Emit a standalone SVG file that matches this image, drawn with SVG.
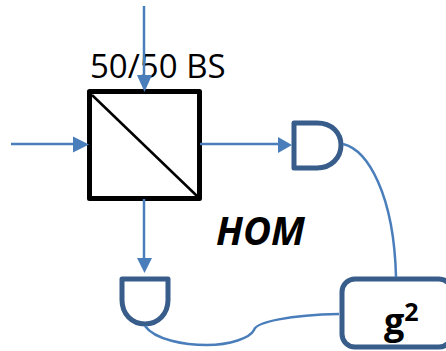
<svg xmlns="http://www.w3.org/2000/svg" width="446" height="351" viewBox="0 0 446 351">
<style>
.w{fill:none;stroke:#4a7ebb;stroke-width:2.500}
.d{fill:#fff;stroke:#385d8a;stroke-width:5;stroke-linejoin:round}
.a{fill:#4a7ebb}
text{font-family:"Open Sans","Noto Sans",sans-serif;fill:#000}
</style>
<rect width="446" height="351" fill="#fff"/>
<g id="label-bs"><text x="90" y="78" font-size="33">50/50 BS</text></g>
<g id="beamsplitter">
<rect x="89.500" y="91.500" width="110" height="107" fill="none" stroke="#000" stroke-width="5" stroke-linejoin="round"/>
<line x1="92" y1="95" x2="197" y2="196" stroke="#000" stroke-width="2.500"/>
</g>
<g id="detector-right"><path class="d" d="M294 123H317C332 123 341 133 341 145C341 158 331 168 317 168H294Z"/></g>
<g id="detector-bottom"><path class="d" d="M122 279H168V300C168 314 158 324 145 324C132 324 122 314 122 300Z"/></g>
<g id="g2">
<rect x="342" y="279" width="110" height="68" rx="13" fill="#fff" stroke="#385d8a" stroke-width="5"/>
<text x="384" y="334" font-size="36" font-weight="700">g<tspan font-size="25" dy="-13">2</tspan></text>
</g>
<g id="label-hom"><text x="216" y="245" font-size="38.500" font-weight="700" font-style="italic">HOM</text></g>
<g id="connectors">
<path class="w" d="M144 6V80"/><path class="a" d="M137 75H152L144.500 92Z"/>
<path class="w" d="M11 144H75"/><path class="a" d="M73 136.500L89 144.500L73 152.500Z"/>
<path class="w" d="M200 144H279"/><path class="a" d="M278 137L292 145L278 153Z"/>
<path class="w" d="M144 199V260"/><path class="a" d="M137 258H152L144.500 273Z"/>
<path class="w" d="M343 144C368 150 394 195 396 277"/>
<path class="w" d="M145 326C155 340 185 345 207 345C230 345 250 338 254 330C256 322 290 315 339 314"/>
</g>
</svg>
